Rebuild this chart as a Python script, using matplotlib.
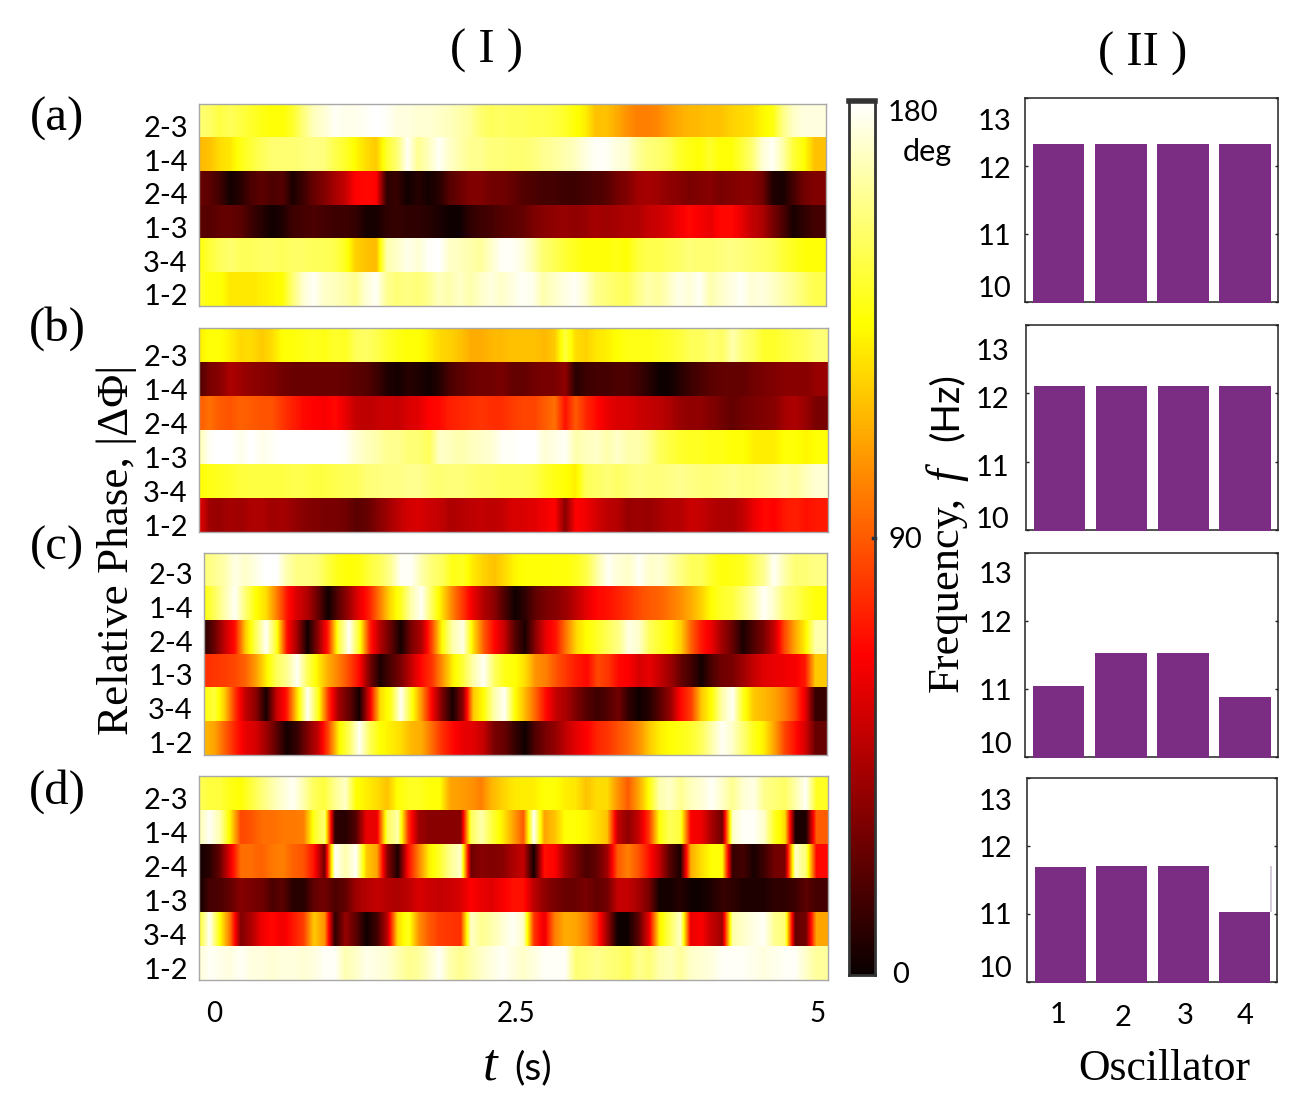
import matplotlib
matplotlib.use("Agg")
import matplotlib.pyplot as plt
import numpy as np

W, H = 1308, 1117

row_labels = ["2-3", "1-4", "2-4", "1-3", "3-4", "1-2"]
time_ticks = [0, 2.5, 5]
time_labels = ["0", "2.5", "5"]
oscillators = [1, 2, 3, 4]
freq_ticks = [10, 11, 12, 13]

# relative phase in degrees, one line per row
phase_a = [
    [155,152,146,150,146,142,138,135,135,142,156,168,172,178,176,176,178,180,178,174,174,172,172,170,168,165,162,154,150,152,150,150,148,148,146,142,136,130,118,118,112,105,100,100,102,108,112,115,116,118,118,122,124,126,132,137,158,170,174,174],
    [115,118,125,128,138,144,150,154,154,154,156,158,156,148,142,133,125,120,142,155,178,160,168,178,170,165,160,160,156,156,154,154,156,160,162,165,168,174,178,178,174,172,162,156,154,150,142,138,135,142,135,135,144,154,172,178,164,144,135,118],
    [25,22,15,3,8,18,22,18,20,5,14,25,32,42,50,66,68,66,10,12,2,8,3,8,20,26,32,32,28,28,25,20,18,16,16,14,14,16,18,20,28,32,40,42,40,36,34,30,32,34,30,32,34,34,28,6,4,16,28,32],
    [22,20,24,24,22,14,8,2,6,14,16,18,16,14,14,12,4,4,10,12,10,10,8,5,2,2,10,14,16,20,22,24,30,34,36,38,36,38,42,40,42,44,44,50,52,56,62,68,64,60,68,68,60,50,44,30,18,4,10,16],
    [135,144,150,154,150,150,152,152,150,152,152,150,150,148,140,122,118,116,165,170,176,172,178,180,170,168,165,162,170,178,178,174,166,154,150,144,140,136,136,135,138,135,144,148,148,150,152,156,154,154,156,158,156,154,152,150,144,140,136,135],
    [142,136,136,128,128,128,130,132,135,155,172,178,170,168,165,160,172,178,160,155,158,155,160,168,165,170,165,170,174,170,174,178,176,165,170,174,178,172,160,156,152,150,158,165,162,168,176,172,178,165,170,174,178,172,174,170,165,160,154,148],
]
phase_b = [
    [130,135,135,130,124,125,120,125,135,136,138,140,138,142,140,150,152,148,142,138,135,135,130,124,122,118,112,112,115,116,118,118,118,115,120,145,125,122,128,130,135,138,138,138,140,142,145,150,150,155,152,165,155,150,142,142,145,148,150,155],
    [18,30,34,44,40,36,34,32,28,26,26,26,26,26,24,22,20,14,6,3,8,6,2,8,18,22,26,28,28,30,24,24,28,30,30,36,8,14,16,16,18,18,14,8,2,2,8,14,18,22,24,24,24,28,30,32,34,34,34,38],
    [90,96,90,88,92,90,88,88,80,74,68,66,64,68,60,50,48,50,52,50,56,58,66,68,74,76,78,80,78,78,82,84,84,90,96,70,90,76,68,60,56,56,52,50,48,44,38,36,36,32,28,24,28,30,32,34,42,44,38,30],
    [165,178,180,180,176,180,176,178,180,180,180,180,180,180,178,172,168,165,160,160,155,155,150,170,168,165,168,170,172,178,178,180,180,172,175,178,165,168,170,165,170,165,165,160,150,146,142,140,140,138,138,135,135,130,130,130,135,135,132,135],
    [135,138,140,142,145,146,146,146,146,148,148,146,146,148,150,150,155,156,158,158,160,160,156,154,156,156,154,152,152,150,150,150,148,142,138,135,130,150,152,155,152,155,158,156,156,158,160,158,156,156,158,160,158,158,160,162,165,162,168,172],
    [60,40,38,42,40,44,44,40,42,38,34,32,30,30,28,22,24,32,40,48,54,56,52,50,44,46,48,50,48,50,56,56,58,62,66,34,66,62,54,48,46,38,40,38,42,46,46,52,50,46,44,44,50,60,68,66,72,74,70,72],
]
phase_c = [
    [155,160,165,175,170,175,180,180,165,158,158,155,145,138,135,137,145,150,160,178,178,165,155,150,138,140,128,122,118,124,132,135,135,135,136,136,140,148,165,178,172,170,178,170,172,165,158,150,150,142,136,138,140,150,160,178,165,155,155,158],
    [135,150,165,178,155,135,125,100,72,55,45,25,2,22,40,60,75,100,125,140,165,178,150,125,100,80,60,45,35,18,2,10,24,30,34,40,50,60,68,70,75,80,86,90,92,98,104,112,122,135,142,145,155,165,178,170,155,150,142,136],
    [8,25,50,70,120,150,178,140,70,40,2,35,75,145,178,140,75,45,25,3,30,45,85,135,165,175,125,90,68,50,20,5,35,60,72,100,125,135,142,150,158,175,170,150,142,135,122,92,72,60,40,25,5,18,30,50,85,110,130,165],
    [78,80,82,85,92,108,130,150,160,178,150,130,112,100,85,68,30,5,18,30,50,68,80,105,130,145,165,178,152,138,135,125,105,100,88,80,72,68,85,80,68,65,55,60,50,40,25,15,3,18,28,30,40,50,58,60,62,64,72,120],
    [135,145,120,80,50,35,4,50,72,125,178,140,80,40,25,3,60,125,138,178,140,105,65,30,4,35,120,135,165,178,135,115,92,68,50,42,30,20,14,20,28,10,2,8,22,38,68,82,120,135,165,178,140,120,115,110,100,85,60,12],
    [115,110,92,75,60,55,40,22,3,12,32,50,85,130,150,178,150,135,130,125,115,112,95,78,68,60,58,50,30,25,12,2,20,30,38,50,60,66,76,80,88,95,105,120,130,135,138,142,150,165,178,170,155,140,130,110,85,70,55,25],
]
phase_d = [
    [150,145,145,138,135,145,155,165,172,178,165,150,145,160,170,135,130,125,118,135,140,140,136,135,110,108,105,100,115,122,128,130,130,135,135,130,128,118,125,125,105,90,110,135,165,170,160,168,172,178,170,160,172,175,160,155,152,165,178,140],
    [165,178,165,130,85,88,95,95,98,98,100,140,155,10,8,20,60,60,150,165,80,40,34,34,34,34,150,165,145,130,110,90,178,110,118,135,135,132,125,118,50,36,50,80,135,150,145,65,62,42,28,170,178,178,170,140,125,5,5,90],
    [3,8,25,60,95,95,92,98,100,92,88,70,28,178,165,178,120,110,35,5,68,100,130,142,160,170,28,34,32,34,44,50,3,70,66,42,30,18,24,40,90,100,88,70,50,20,5,112,125,135,135,12,16,4,14,28,30,170,155,68],
    [2,16,18,24,34,30,28,18,22,8,8,24,28,18,24,40,46,50,46,44,48,56,52,50,52,56,66,60,58,64,70,70,48,36,30,26,26,30,24,28,50,50,42,30,3,3,8,2,2,6,12,10,6,6,6,10,10,14,22,16],
    [140,178,135,95,32,44,62,68,62,72,82,120,105,10,38,22,2,14,48,125,140,105,90,82,80,78,170,160,165,172,178,170,80,60,100,112,110,100,78,40,2,2,22,60,130,150,170,60,65,50,40,165,170,175,178,160,155,24,28,110],
    [172,178,176,174,178,174,174,172,174,174,172,174,178,178,166,170,176,174,172,166,160,162,170,178,165,160,165,170,174,178,174,170,174,178,178,178,155,156,160,156,154,150,160,155,165,168,162,170,172,174,178,178,178,176,174,176,178,178,170,162],
]

freq_a = [12.32, 12.32, 12.32, 12.32]
freq_b = [12.11, 12.11, 12.11, 12.11]
freq_c = [11.04, 11.53, 11.53, 10.88]
freq_d = [11.69, 11.71, 11.71, 11.03]

SERIF = "Liberation Serif"
SANS = "Lato"
BAR_COLOR = "#7b2c83"
FRAME = "#a8a8a8"


def box(x0, y0, x1, y1):
    # axes rectangle from pixel corners, y counted from the top
    return [x0 / W, 1 - y1 / H, (x1 - x0) / W, (y1 - y0) / H]


def label(x, y, s, **kw):
    kw.setdefault("ha", "center")
    kw.setdefault("va", "center")
    plt.gcf().text(x / W, 1 - y / H, s, **kw)


fig = plt.figure(figsize=(W / 100, H / 100), dpi=100)

# ---- heat maps ----
heat_boxes = [(199, 104, 826, 306), (199, 328, 828, 532), (204, 553, 827, 755), (199, 776, 828, 980)]
heat_limits = [(-0.124, 5.067), (-0.124, 5.083), (-0.083, 5.075), (-0.124, 5.083)]
row_shift = [0.17, 0.30, 0.12, 0.15]  # the row labels sit a bit low in the original
for n, (phase, b, lim) in enumerate(zip([phase_a, phase_b, phase_c, phase_d], heat_boxes, heat_limits)):
    ax = fig.add_axes(box(*b))
    dt = (lim[1] - lim[0]) / 60.1
    for i, row in enumerate(phase):
        # one image per row so the rows keep hard edges, samples sit on the left of each cell
        ax.imshow(np.array([row + row[-1:]]), extent=(lim[0] - dt / 2, lim[0] + 60.5 * dt, i + 1, i),
                  cmap="hot", vmin=0, vmax=180, aspect="auto", interpolation="bilinear")
    ax.set_xlim(*lim)
    ax.set_ylim(6, 0)
    ax.set_yticks(np.arange(6) + 0.5 + row_shift[n])
    ax.set_yticklabels(row_labels, fontname=SANS, fontsize=21)
    ax.tick_params(axis="y", length=0, pad=8)
    if n == 3:
        ax.set_xticks(time_ticks)
        ax.set_xticklabels(time_labels, fontname=SANS, fontsize=20)
        ax.tick_params(axis="x", length=0, pad=15)
    else:
        ax.set_xticks([])
    for s in ax.spines.values():
        s.set_color(FRAME)
        s.set_linewidth(1)

# ---- colour bar ----
cax = fig.add_axes(box(849, 101, 875, 975))
cax.imshow(np.linspace(180, 0, 256)[:, None], extent=(0, 1, 0, 180), cmap="hot",
           vmin=0, vmax=180, aspect="auto")
cax.set_xticks([])
cax.set_yticks([])
for s in cax.spines.values():
    s.set_color("#333333")
    s.set_linewidth(2)
cax.spines["top"].set_linewidth(4)
cax.plot([0.93, 1.0], [90, 90], color="#16364f", lw=2.5, clip_on=False)
label(888, 113, "180", fontname=SANS, fontsize=21, ha="left")
label(903, 152, "deg", fontname=SANS, fontsize=22, ha="left")
label(888, 540, "90", fontname=SANS, fontsize=21, ha="left")
label(892, 975, "0", fontname=SANS, fontsize=21, ha="left")

# ---- frequency bars ----
bar_boxes = [(1025, 98, 1278, 302), (1026, 325, 1278, 530), (1025, 553, 1278, 757), (1027, 778, 1277, 982)]
for n, (freq, b) in enumerate(zip([freq_a, freq_b, freq_c, freq_d], bar_boxes)):
    ax = fig.add_axes(box(*b))
    ax.bar(oscillators, np.array(freq) - 9.98, bottom=9.98, width=0.83, color=BAR_COLOR, zorder=3, clip_on=False)
    ax.set_xlim(0.46, 4.53)
    ax.set_ylim(10, 13)
    ax.set_yticks(freq_ticks)
    ax.set_yticklabels([])
    ax.set_xticks([])
    ax.tick_params(axis="y", direction="in", length=2.5, width=1, left=True, right=True, color="#222222")
    for s in ax.spines.values():
        s.set_color("#333333")
        s.set_linewidth(1.2)
        s.set_zorder(1)
    if n == 3:
        # stray sliver next to the last bar in the original
        ax.vlines(4.43, freq[3], freq[2], color="#cfc2d6", lw=1.2)

# tick labels on these panels are placed by hand in the original, not on the ticks
freq_label_y = [[289, 237, 170, 122], [520, 468, 400, 352], [745, 692, 624, 575], [969, 916, 849, 802]]
for ys, right in zip(freq_label_y, [1011, 1009, 1012, 1012]):
    for y, t in zip(ys, freq_ticks):
        label(right, y, str(t), fontname=SANS, fontsize=21, ha="right")
for x, y, o in zip([1058, 1123, 1185, 1245], [1015, 1018, 1016, 1016], oscillators):
    label(x, y, str(o), fontname=SANS, fontsize=21)

# ---- titles and axis labels ----
label(486, 51, "( I )", fontname=SERIF, fontsize=35)
label(1143, 54, "( II )", fontname=SERIF, fontsize=35)
label(57, 119, "(a)", fontname=SERIF, fontsize=35)
label(57, 329, "(b)", fontname=SERIF, fontsize=35)
label(57, 548, "(c)", fontname=SERIF, fontsize=35)
label(57, 792, "(d)", fontname=SERIF, fontsize=35)
label(117, 550, "Relative Phase, |ΔΦ|", fontname=SERIF, fontsize=32.5, rotation=90)
label(947, 594, "Frequency,", fontname=SERIF, fontsize=32, rotation=90)
label(947, 475, "f", fontname=SERIF, fontsize=33, style="italic", rotation=90)
label(947, 407, "(Hz)", fontname=SANS, fontsize=28, rotation=90)
label(490, 1066, "t", fontname=SERIF, fontsize=38, style="italic")
label(533, 1068, "(s)", fontname=SANS, fontsize=28)
label(1164, 1069, "Oscillator", fontname=SERIF, fontsize=31.5)

fig.savefig("out.png", dpi=100)
